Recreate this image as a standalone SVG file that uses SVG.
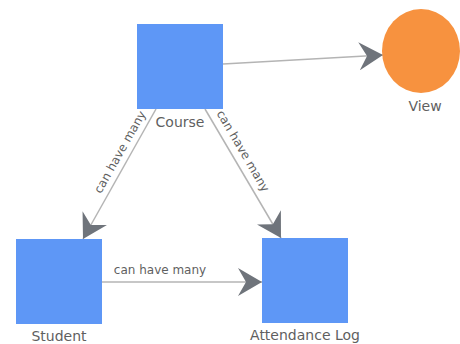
<svg xmlns="http://www.w3.org/2000/svg" width="460" height="344" viewBox="0 0 460 344">
<defs>
<style>
.node{fill:#5e97f6;}
.view{fill:#f7923f;}
.lbl{font-family:"DejaVu Sans",Verdana,sans-serif;font-size:14px;fill:#5f5f5f;text-anchor:middle;}
.elbl{font-family:"DejaVu Sans",Verdana,sans-serif;font-size:12px;fill:#5f5f5f;text-anchor:middle;}
.edge{stroke:#b4b4b4;stroke-width:1.5;fill:none;marker-end:url(#arr);}
</style>
<marker id="arr" markerUnits="userSpaceOnUse" markerWidth="26" markerHeight="28" refX="24" refY="14" orient="auto" viewBox="0 0 26 28">
<path d="M0,0 L24,14 L0,28 L8,14 Z" fill="#6f747b"/>
</marker>
</defs>
<rect width="460" height="344" fill="#fff"/>
<g id="connectors">
<line class="edge" x1="223" y1="64" x2="383" y2="55"/>
<line class="edge" x1="156" y1="109" x2="83" y2="239"/>
<line class="edge" x1="205" y1="109" x2="281" y2="238"/>
<line class="edge" x1="102" y1="282" x2="262" y2="282"/>
<text class="elbl" transform="translate(120,152) rotate(-60.6)" y="4">can have many</text>
<text class="elbl" transform="translate(243,151) rotate(59.7)" y="4">can have many</text>
<text class="elbl" x="160" y="274">can have many</text>
</g>
<g id="course">
<rect class="node" x="137" y="24" width="86" height="85"/>
<text class="lbl" x="180" y="127">Course</text>
</g>
<g id="view">
<ellipse class="view" cx="421" cy="51" rx="39" ry="42"/>
<text class="lbl" x="425" y="111">View</text>
</g>
<g id="student">
<rect class="node" x="16" y="239" width="86" height="85"/>
<text class="lbl" x="59" y="341">Student</text>
</g>
<g id="attendance">
<rect class="node" x="262" y="238" width="86" height="85"/>
<text class="lbl" x="305" y="340">Attendance Log</text>
</g>
</svg>
